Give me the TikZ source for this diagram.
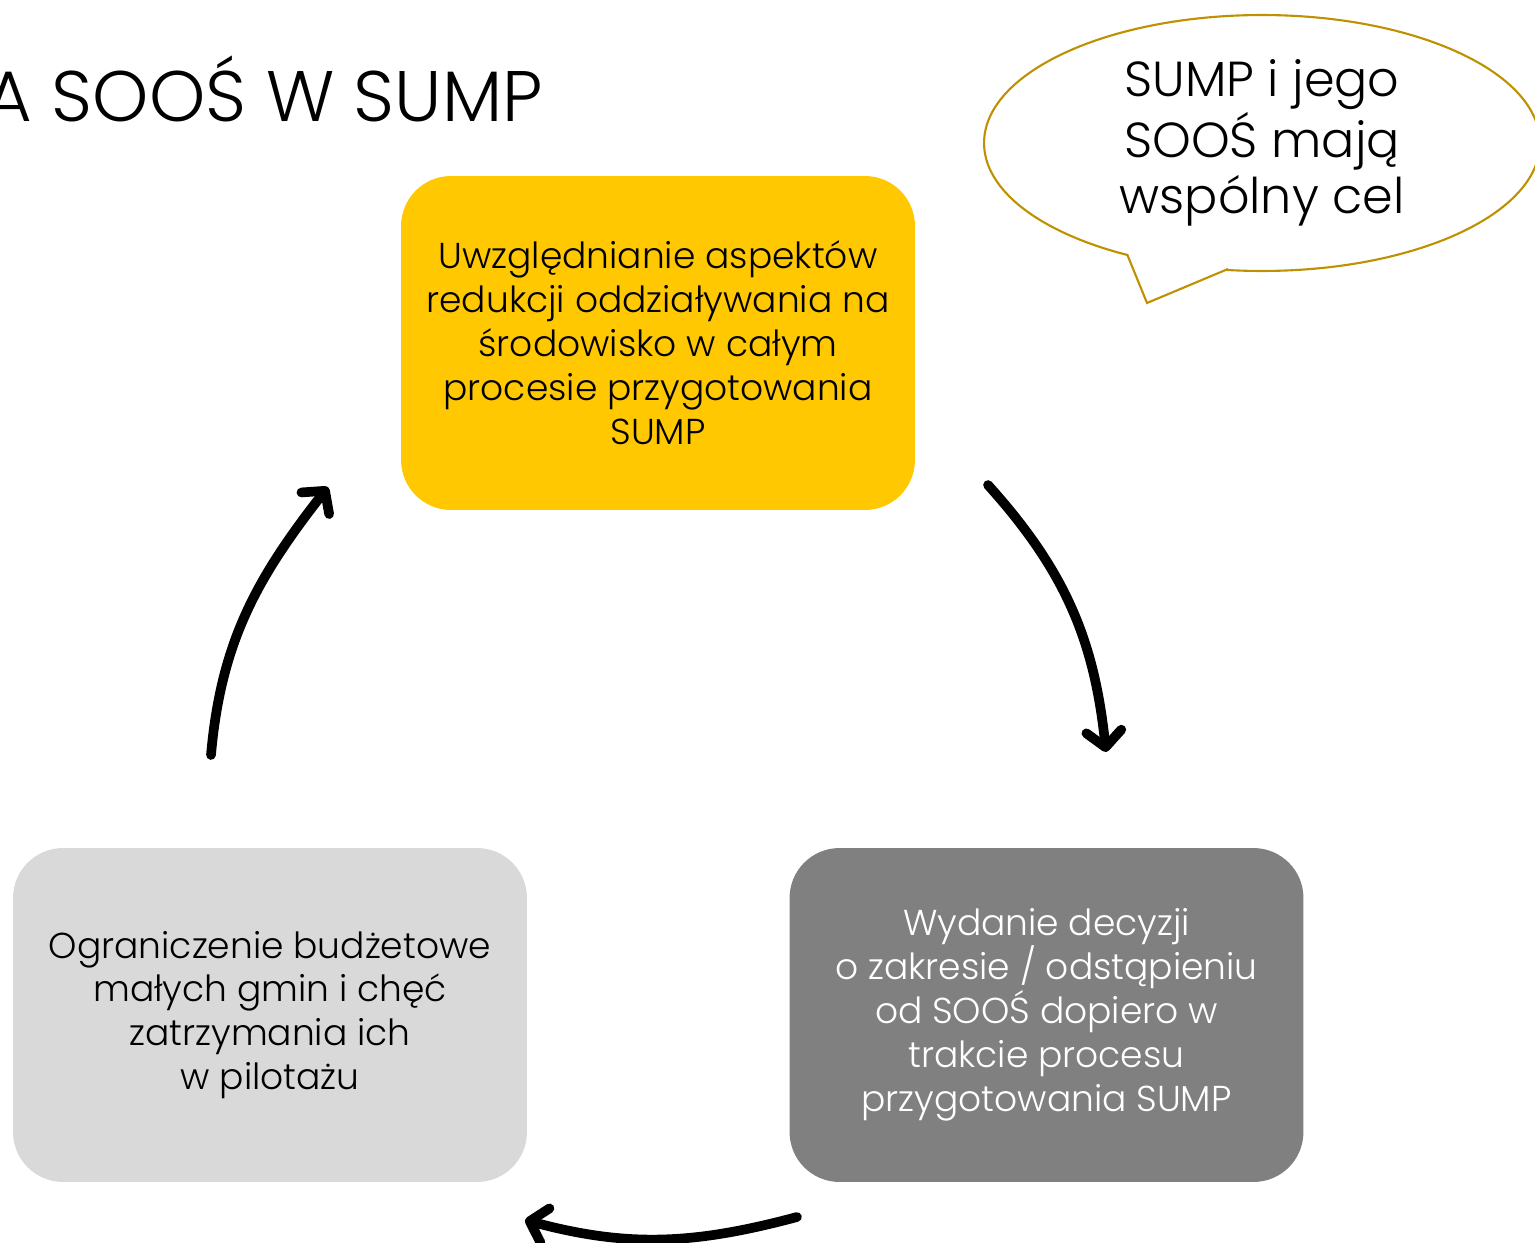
\documentclass[tikz,border=0pt]{standalone}
\usepackage{fontspec}
\IfFontExistsTF{Poppins Light}{\setmainfont{Poppins Light}}{\setmainfont{Poppins}}
\usetikzlibrary{arrows.meta,shapes.geometric}
\definecolor{boxyellow}{HTML}{FFC800}
\definecolor{boxlight}{HTML}{D9D9D9}
\definecolor{boxdark}{HTML}{808080}
\definecolor{bubblegold}{HTML}{BF9000}

\begin{document}
\begin{tikzpicture}[x=0.02cm,y=-0.02cm]
    \useasboundingbox (0,0) rectangle (1535,1243);

    \node[anchor=base east,inner sep=0pt,font=\fontsize{40.7}{42}\selectfont] (title) at (543,122) {A SOOŚ W SUMP};

    \begin{scope} [box style/.style={rounded corners=1cm,
                                     minimum width=10.28cm,
                                     minimum height=6.68cm,
                                     inner sep=0pt,
                                     align=center,
                                     font=\fontsize{20.5}{25}\selectfont}]
      \node[box style,fill=boxyellow] (plan) at (658,343)
        {Uwzględnianie aspektów\\redukcji oddziaływania na\\środowisko w całym\\procesie przygotowania\\SUMP};
      \node[box style,fill=boxdark,text=white] (decision) at (1046.5,1015)
        {Wydanie decyzji\\o zakresie / odstąpieniu\\od SOOŚ dopiero w\\trakcie procesu\\przygotowania SUMP};
      \node[box style,fill=boxlight] (budget) at (270,1015)
        {Ograniczenie budżetowe\\małych gmin i chęć\\zatrzymania ich\\w pilotażu};
    \end{scope}

    \begin{scope} [bubble style/.style={draw=bubblegold,line width=1.2pt}]
      \node[ellipse,bubble style,fill=white,minimum width=11.12cm,minimum height=5.12cm,
            align=center,font=\fontsize{28}{32}\selectfont] (bubble) at (1262,143)
        {SUMP i jego\\SOOŚ mają\\wspólny cel};
      \coordinate (tailA) at (1127,254);
      \coordinate (tailB) at (1147,303);
      \coordinate (tailC) at (1228,269);
      \fill[white] (tailA) -- (tailB) -- (tailC) -- (1228,245) -- (1127,240) -- cycle;
      \draw[bubble style,line join=miter] (tailA) -- (tailB) -- (tailC);
    \end{scope}

    \begin{scope} [arrow style/.style={draw,
                                       line width=5.5pt,
                                       line cap=round,
                                       -{Straight Barb[round,length=9pt,width=20pt]}}]
      \coordinate (planout) at (988,485);
      \coordinate (decisionin) at (1106,752);
      \coordinate (decisionout) at (797,1217);
      \coordinate (budgetin) at (525,1220);
      \coordinate (budgetout) at (211,755);
      \coordinate (planin) at (328,487);
      \draw[arrow style] (planout) to[out=-48,in=96] (decisionin);
      \draw[arrow style] (decisionout) to[out=-165,in=-15] (budgetin);
      \draw[arrow style] (budgetout) to[out=85,in=-128] (planin);
    \end{scope}

\end{tikzpicture}
\end{document}
